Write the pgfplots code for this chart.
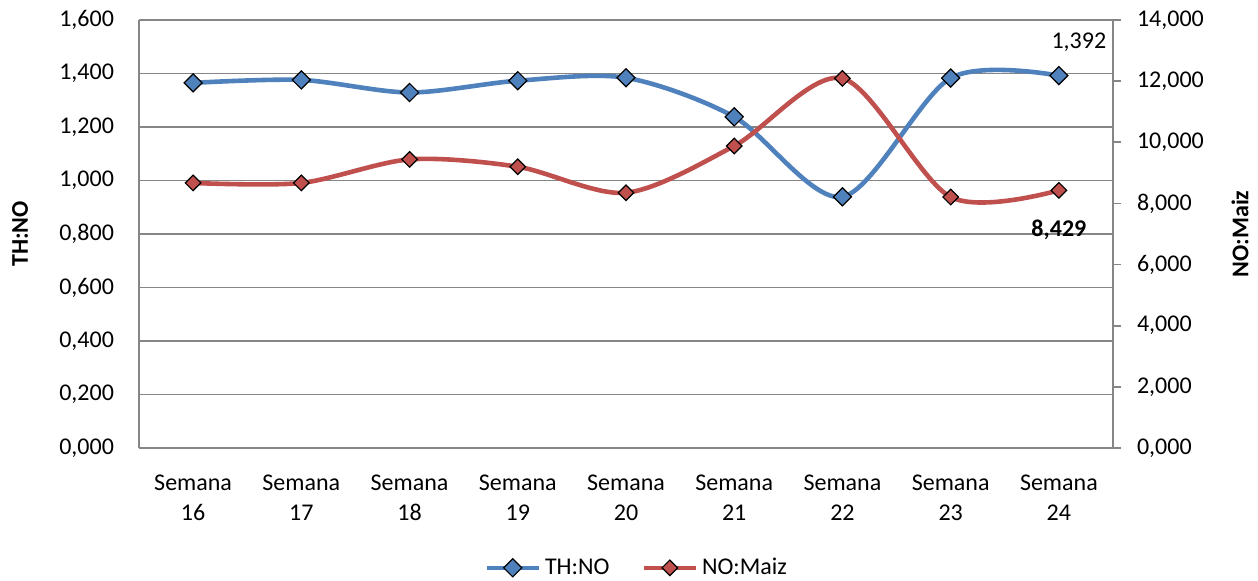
\documentclass[border=0pt]{standalone}
\usepackage{fontspec}
\setmainfont{Carlito}
\usepackage{pgfplots}
\pgfplotsset{compat=1.18}
\definecolor{serA}{HTML}{4F81BD}
\definecolor{serB}{HTML}{C0504D}
\definecolor{axgray}{HTML}{868686}
\pgfplotsset{
  common/.style={
    scale only axis, width=487pt, height=214pt,
    xmin=-0.5, xmax=8.5,
    font=\fontsize{12}{15}\selectfont,
    /pgf/number format/.cd, fixed, fixed zerofill, precision=3, use comma, 1000 sep={}, assume math mode=true, /pgfplots/.cd,
    axis line style={axgray, line width=0.8pt},
  },
  styA/.style={serA, line width=2.3pt, smooth, tension=0.5, mark=square*, mark size=3.2pt,
    mark options={fill=serA, draw=black, line width=0.6pt, rotate=45, solid}},
  styB/.style={serB, line width=2.3pt, smooth, tension=0.5, mark=square*, mark size=2.75pt,
    mark options={fill=serB, draw=black, line width=0.6pt, rotate=45, solid}},
}
\begin{document}
\begin{tikzpicture}
\useasboundingbox (-69.5pt,-66pt) rectangle (559.5pt,224pt);
\begin{axis}[common,
  ymin=0, ymax=1.6,
  ytick={0,0.2,0.4,0.6,0.8,1.0,1.2,1.4,1.6},
  axis x line*=bottom, axis y line*=left,
  ymajorgrids, grid style={axgray, line width=0.8pt},
  major tick length=0pt,
  xtick={0,1,2,3,4,5,6,7,8},
  xticklabels={{Semana\\16},{Semana\\17},{Semana\\18},{Semana\\19},{Semana\\20},{Semana\\21},{Semana\\22},{Semana\\23},{Semana\\24}},
  xticklabel style={align=center, yshift=-10pt},
  yticklabel style={xshift=-9pt},
  ylabel={\textbf{TH:NO}},
  ylabel style={at={(axis description cs:-0.1222,0.5)}, anchor=center},
]
\addplot[styA] coordinates {(0,1.365) (1,1.376) (2,1.329) (3,1.373) (4,1.384) (5,1.238) (6,0.939) (7,1.383) (8,1.392)};
\node[font=\fontsize{12}{15}\selectfont] at (axis cs:8,1.392) [xshift=10pt, yshift=16.5pt] {1,392};
\end{axis}
\begin{axis}[common,
  ymin=0, ymax=14,
  ytick={0,2,4,6,8,10,12,14},
  axis x line=none, axis y line*=right,
  tick align=outside, major tick length=4pt,
  ytick style={axgray, line width=0.8pt},
  yticklabel style={xshift=4.5pt},
  ylabel={\textbf{NO:Maiz}},
  ylabel style={at={(axis description cs:1.1304,0.5)}, anchor=center, rotate=0},
  legend columns=2,
  legend style={draw=none, at={(0.512,-0.28)}, anchor=center, font=\fontsize{12}{15}\selectfont,
    /tikz/every even column/.append style={column sep=14pt}},
  legend image code/.code={\draw[#1, mark repeat=2, mark phase=2] plot coordinates {(0pt,0pt) (13pt,0pt) (26pt,0pt)};},
]
\addlegendimage{styA}
\addlegendentry{TH:NO}
\addplot[styB] coordinates {(0,8.67) (1,8.67) (2,9.44) (3,9.20) (4,8.35) (5,9.88) (6,12.09) (7,8.21) (8,8.429)};
\addlegendentry{NO:Maiz}
\node[font=\bfseries\fontsize{12}{15}\selectfont] at (axis cs:8,8.429) [yshift=-20pt] {8,429};
\end{axis}
\end{tikzpicture}
\end{document}
